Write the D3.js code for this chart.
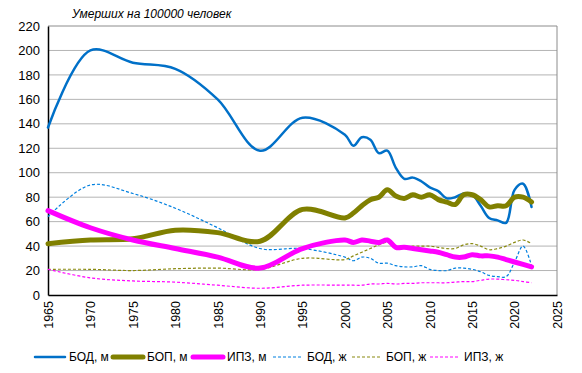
<!DOCTYPE html>
<html>
<head>
<meta charset="utf-8">
<script src="https://cdn.jsdelivr.net/npm/d3@7/dist/d3.min.js"></script>
<style>
    body { margin: 0; background: #fff; }
    svg text { font-family: "Liberation Sans", Arial, sans-serif; fill: #000; }
</style>
</head>
<body>
<svg id="chart" width="582" height="373"></svg>
<script>
// Years: every 5 years until 2000, then yearly
const years = [1965, 1970, 1975, 1980, 1985, 1990, 1995, 2000, 2001, 2002, 2003, 2004, 2005,
    2006, 2007, 2008, 2009, 2010, 2011, 2012, 2013, 2014, 2015, 2016, 2017, 2018, 2019, 2020, 2021, 2022];

const bodM = [137, 200, 190, 185, 160, 118, 145, 131, 122, 129, 127, 116, 118,
    104, 95, 96, 93, 88, 85, 79, 80, 83, 82, 73, 63, 61, 59, 86, 91, 72];
const bopM = [42, 45, 46, 53, 51, 44, 70, 63, 67, 73, 78, 80, 86,
    81, 79, 82, 80, 82, 78, 76, 74, 82, 82, 78, 72, 73, 73, 80, 80, 76];
const ipzM = [69, 55, 45, 38, 31, 22, 38, 45, 43, 45, 44, 43, 45,
    39, 39, 38, 37, 36, 35, 33, 31, 31, 33, 32, 32, 31, 29, 27, 25, 23];
const bodF = [64, 90, 83, 71, 55, 38, 38, 31, 28, 31, 30, 26, 26,
    24, 23, 23, 24, 21, 20, 20, 22, 22, 21, 19, 16, 15, 15, 27, 40, 24];
const bopF = [21, 21, 20, 21.5, 22, 21, 30, 29, 32, 35, 38, 41, 43,
    39, 39, 40, 40, 40, 39, 38, 38, 41, 42, 40, 37, 38, 40, 43, 45, 42];
const ipzF = [21, 14, 11.5, 10.5, 8, 5.5, 8, 8, 8, 8, 9, 9, 9.5,
    9, 9.5, 9.5, 10, 10, 10, 10, 10.5, 11, 11, 12, 13, 13, 12.5, 12, 11, 10];

const seriesNames = ['БОД, м', 'БОП, м', 'ИПЗ, м', 'БОД, ж', 'БОП, ж', 'ИПЗ, ж'];
const seriesValues = [bodM, bopM, ipzM, bodF, bopF, ipzF];
const seriesStyle = [
    {color: '#0070C8', width: 2.5, dash: null},
    {color: '#808000', width: 5, dash: null},
    {color: '#FF00FF', width: 5, dash: null},
    {color: '#0080E0', width: 1.2, dash: '3,2'},
    {color: '#8A8A10', width: 1.2, dash: '3,2'},
    {color: '#FF00FF', width: 1.2, dash: '3,2'}
];

const xTicks = d3.range(1965, 2026, 5);
const yTicks = d3.range(0, 221, 20);

const svg = d3.select('#chart');
const margin = {top: 26, right: 25, bottom: 78, left: 48};
const width = 582, height = 373;

const x = d3.scaleLinear().domain([1965, 2025]).range([margin.left, width - margin.right]);
const y = d3.scaleLinear().domain([0, 220]).range([height - margin.bottom, margin.top]);

// Grid lines
svg.append('g')
    .selectAll('line')
    .data(yTicks.filter(d => d > 0 && d < 220))
    .enter()
    .append('line')
    .attr('x1', x(1965)).attr('x2', x(2025))
    .attr('y1', d => y(d)).attr('y2', d => y(d))
    .style('stroke', '#b4b4b4')
    .style('stroke-width', 1);

// Plot frame (top and right in grey)
svg.append('path')
    .attr('d', `M${x(1965)},${y(220)}H${x(2025)}V${y(0)}`)
    .style('fill', 'none')
    .style('stroke', '#8c8c8c')
    .style('stroke-width', 1);

// Y axis
const yAxis = svg.append('g')
    .attr('transform', `translate(${x(1965)},0)`)
    .call(d3.axisLeft(y).tickValues(yTicks).tickSize(0).tickPadding(8));
yAxis.select('.domain').style('stroke', '#000').style('stroke-width', 1.5);
yAxis.selectAll('text').style('font-size', '13px');

// X axis
const xAxis = svg.append('g')
    .attr('transform', `translate(0,${y(0)})`)
    .call(d3.axisBottom(x).tickValues(xTicks).tickFormat(d3.format('d')).tickSize(0));
xAxis.select('.domain').style('stroke', '#000').style('stroke-width', 1.5);
xAxis.selectAll('text')
    .style('font-size', '12.5px')
    .attr('transform', 'rotate(90)')
    .attr('x', 6)
    .attr('y', 0)
    .attr('dy', '0.35em')
    .style('text-anchor', 'start')
    .attr('transform', 'rotate(-90)')
    .attr('x', -6)
    .style('text-anchor', 'end');

// Lines
const line = d3.line()
    .x((d, i) => x(years[i]))
    .y(d => y(d))
    .curve(d3.curveCatmullRom.alpha(0.5));

// Draw thin dashed ones first, then thick ones on top (order like the reference)
const drawOrder = [3, 4, 5, 0, 1, 2];
drawOrder.forEach(i => {
    const st = seriesStyle[i];
    svg.append('path')
        .datum(seriesValues[i])
        .attr('d', line)
        .style('fill', 'none')
        .style('stroke', st.color)
        .style('stroke-width', st.width)
        .style('stroke-linejoin', 'round')
        .style('stroke-linecap', st.dash ? 'butt' : 'round')
        .style('stroke-dasharray', st.dash);
});

// Title
svg.append('text')
    .attr('x', 72)
    .attr('y', 18)
    .style('font-size', '12px')
    .style('font-style', 'italic')
    .text('Умерших на 100000 человек');

// Legend
const legendX = [35, 113, 193, 273, 352, 430];
const legendY = 357;
const legend = svg.append('g');
seriesNames.forEach((name, i) => {
    const st = seriesStyle[i];
    legend.append('line')
        .attr('x1', legendX[i]).attr('x2', legendX[i] + 30)
        .attr('y1', legendY).attr('y2', legendY)
        .style('stroke', st.color)
        .style('stroke-width', st.width)
        .style('stroke-linecap', st.dash ? 'butt' : 'round')
        .style('stroke-dasharray', st.dash);
    legend.append('text')
        .attr('x', legendX[i] + 34)
        .attr('y', legendY)
        .attr('dy', '0.35em')
        .style('font-size', '12px')
        .text(name);
});
</script>
</body>
</html>
